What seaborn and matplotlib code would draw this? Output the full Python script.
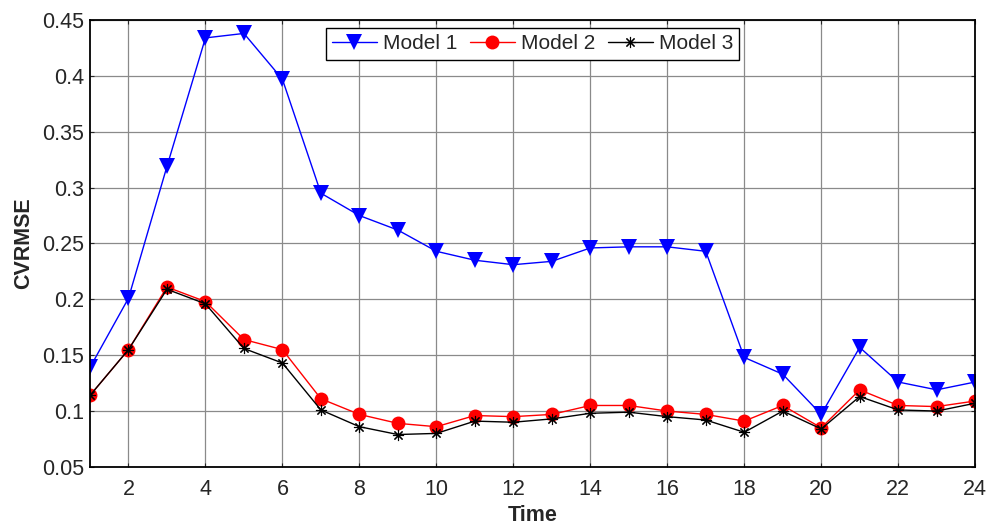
import numpy as np
import pandas as pd
import matplotlib
matplotlib.use("Agg")
from matplotlib import pyplot as plt
import seaborn as sns

time = list(range(1, 25))
model1 = [0.139, 0.201, 0.319, 0.434, 0.438, 0.397, 0.295, 0.275, 0.262, 0.243, 0.235, 0.231,
          0.234, 0.246, 0.247, 0.247, 0.243, 0.148, 0.133, 0.097, 0.157, 0.126, 0.119, 0.126]
model2 = [0.114, 0.155, 0.211, 0.198, 0.164, 0.155, 0.111, 0.097, 0.089, 0.086, 0.096, 0.095,
          0.097, 0.105, 0.105, 0.100, 0.097, 0.091, 0.105, 0.085, 0.119, 0.105, 0.104, 0.109]
model3 = [0.114, 0.155, 0.209, 0.196, 0.156, 0.143, 0.101, 0.086, 0.079, 0.080, 0.091, 0.090,
          0.093, 0.098, 0.099, 0.095, 0.092, 0.081, 0.100, 0.084, 0.113, 0.101, 0.100, 0.107]

df = pd.DataFrame({'Time': time, 'Model 1': model1, 'Model 2': model2, 'Model 3': model3})
long = df.melt(id_vars='Time', var_name='model', value_name='CVRMSE')

sns.set_style("ticks")
plt.rcParams['font.family'] = ['Liberation Sans', 'DejaVu Sans']

fig, ax = plt.subplots(figsize=(9.9, 5.27), dpi=100)
fig.subplots_adjust(left=0.0909, right=0.985, top=0.962, bottom=0.114)

sns.lineplot(data=long, x='Time', y='CVRMSE', hue='model', style='model',
             palette={'Model 1': 'blue', 'Model 2': 'red', 'Model 3': 'black'},
             markers={'Model 1': 'v', 'Model 2': 'o', 'Model 3': '*'},
             dashes=False, linewidth=1, legend=False, ax=ax)

# marker look: filled triangle / dot, thin MATLAB-like asterisk
styles = [dict(ms=11, mew=0), dict(ms=10, mew=0), dict(ms=8, mew=0.8)]
for line, st in zip(ax.lines[:3], styles):
    line.set_markersize(st['ms'])
    line.set_markeredgewidth(st['mew'])
ax.lines[2].set_marker((8, 2, 0))
ax.lines[2].set_markeredgecolor('black')

ax.set_xlim(1, 24)
ax.set_ylim(0.05, 0.45)
ax.set_xticks(range(2, 25, 2))
ax.set_yticks(np.arange(0.05, 0.451, 0.05))
ax.set_yticklabels(['0.05', '0.1', '0.15', '0.2', '0.25', '0.3', '0.35', '0.4', '0.45'])
ax.grid(True, color='#8a8a8a', linewidth=0.9)
ax.tick_params(direction='in', top=True, right=True, labelsize=15.5, length=3, pad=4)
ax.tick_params(axis='x', pad=9)
for s in ax.spines.values():
    s.set_linewidth(1.3)
    s.set_color('black')

ax.set_xlabel('Time', fontsize=15.5, fontweight='bold', labelpad=3)
ax.set_ylabel('CVRMSE', fontsize=15.5, fontweight='bold', labelpad=6)

leg = ax.legend(ax.lines[:3], ['Model 1', 'Model 2', 'Model 3'], loc='upper center',
                bbox_to_anchor=(0.5, 0.982), ncol=3, fontsize=15, frameon=True,
                fancybox=False, handlelength=2.15, columnspacing=0.6, handletextpad=0.3,
                borderpad=0.3, borderaxespad=0)
leg.get_frame().set_edgecolor('black')
leg.get_frame().set_linewidth(1)
leg.get_frame().set_alpha(1)

fig.savefig("out.png", dpi=100)
